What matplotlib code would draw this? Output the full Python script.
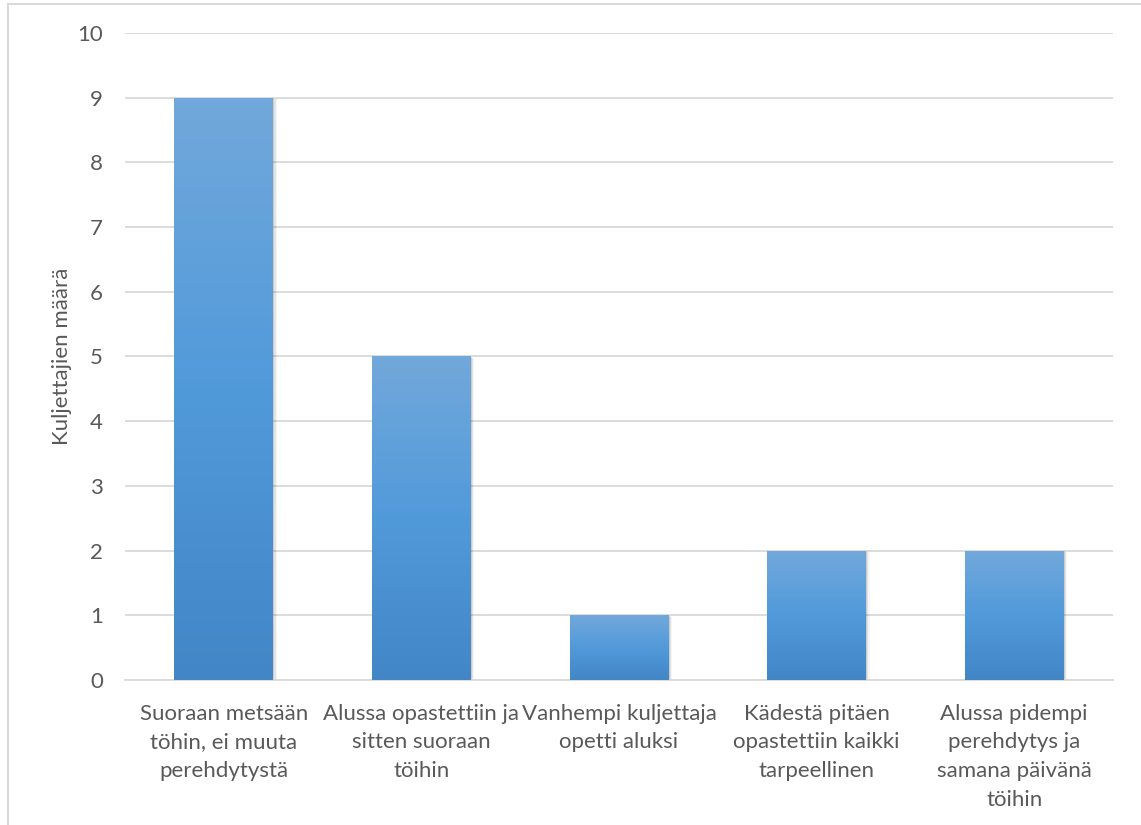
import numpy as np
import matplotlib.pyplot as plt
from matplotlib.colors import LinearSegmentedColormap
from matplotlib.patches import Rectangle
import matplotlib.transforms as mtransforms

categories = [
    "Suoraan metsään\ntöhin, ei muuta\nperehdytystä",
    "Alussa opastettiin ja\nsitten suoraan\ntöihin",
    "Vanhempi kuljettaja\nopetti aluksi",
    "Kädestä pitäen\nopastettiin kaikki\ntarpeellinen",
    "Alussa pidempi\nperehdytys ja\nsamana päivänä\ntöihin",
]
values = [9, 5, 1, 2, 2]
y_ticks = list(range(0, 11))

plt.rcParams['font.family'] = ['Lato', 'DejaVu Sans']
text_color = '#595959'
grid_color = '#d9d9d9'
fs = 16

fig = plt.figure(figsize=(11.41, 8.25), dpi=100)
ax = fig.add_axes([0.1096, 0.1758, 0.8659, 0.7842])

# outer chart frame
fig.patches.append(Rectangle((0.007, -0.02), 1.2, 1.015, transform=fig.transFigure,
                             fill=False, edgecolor='#d9d9d9', linewidth=1.5, zorder=0))

x = np.arange(len(values))
width = 0.5
cmap = LinearSegmentedColormap.from_list('bar', ['#4286c6', '#519ada', '#72a8db'])
grad = np.linspace(0, 1, 256).reshape(-1, 1)

ax.set_xlim(-0.5, len(values) - 0.5)
ax.set_ylim(0, 10)

for xi, v in zip(x, values):
    # soft shadow on the right and bottom
    for k, a in enumerate([0.10, 0.07, 0.04]):
        off = mtransforms.offset_copy(ax.transData, fig=fig, x=(k + 1) * 1.2, y=-(k + 1) * 0.6, units='dots')
        ax.add_patch(Rectangle((xi - width / 2, 0), width, v, facecolor='black', alpha=a,
                               edgecolor='none', transform=off, zorder=2))
    bar = ax.bar(xi, v, width=width, color='none', edgecolor='none', zorder=3)[0]
    im = ax.imshow(grad, cmap=cmap, aspect='auto', origin='lower',
                   extent=(xi - width / 2, xi + width / 2, 0, v), zorder=3)
    im.set_clip_path(bar)

ax.set_xlim(-0.5, len(values) - 0.5)
ax.set_ylim(0, 10)

ax.set_yticks(y_ticks)
ax.yaxis.grid(True, color=grid_color, linewidth=1.3)
ax.set_axisbelow(True)
for s in ['top', 'right', 'left']:
    ax.spines[s].set_visible(False)
ax.spines['bottom'].set_color(grid_color)
ax.spines['bottom'].set_linewidth(1.3)

ax.set_xticks(x)
ax.set_xticklabels(categories, fontsize=fs, color=text_color, linespacing=1.55, va='top')
ax.tick_params(axis='x', length=0, pad=17)
ax.tick_params(axis='y', length=0, pad=16, labelsize=fs, labelcolor=text_color)

ax.set_ylabel("Kuljettajien määrä", fontsize=fs, color=text_color, labelpad=4)

fig.savefig('out.png', dpi=100, facecolor='white')
